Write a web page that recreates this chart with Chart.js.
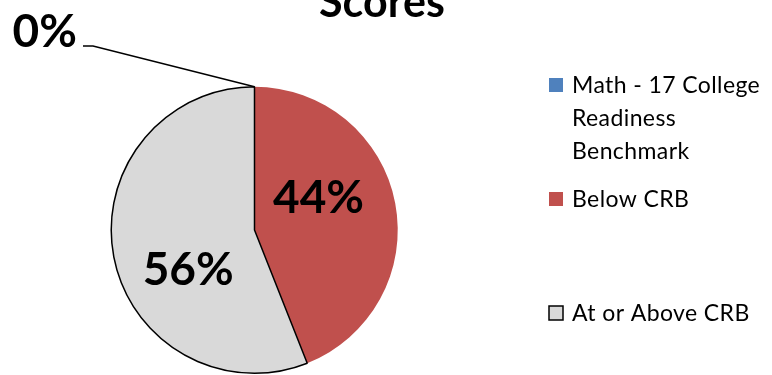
<!DOCTYPE html>
<html><head><meta charset="utf-8">
<script src="https://cdn.jsdelivr.net/npm/chart.js@4/dist/chart.umd.min.js"></script>
<style>html,body{margin:0;padding:0;background:#fff;overflow:hidden}</style>
</head><body>
<canvas id="c" width="772" height="375" style="display:block;width:772px;height:375px"></canvas>
<script>
// ---- data ----
const categories = ["Math - 17 College Readiness Benchmark", "Below CRB", "At or Above CRB"];
const values = [0, 44, 56];
const valueLabels = ["0%", "44%", "56%"];
const titleText = "Scores";

// ---- style ----
const colors = ["#4F81BD", "#C0504D", "#D9D9D9"];
const borderWidths = [0, 0, 1.5];
const labelAngleFrac = 0.4;
const labelRadiusFrac = [0, 0.50, 0.54];
const FONT = "Lato, 'Open Sans', sans-serif";

const overlay = {
  id: 'overlay',
  afterDraw(chart) {
    const ctx = chart.ctx;
    const arcs = chart.getDatasetMeta(0).data;
    ctx.save();
    // title (partially cut at top)
    ctx.fillStyle = '#000';
    ctx.font = 'bold 43px ' + FONT;
    ctx.textAlign = 'center';
    ctx.textBaseline = 'alphabetic';
    ctx.fillText(titleText, 382, 17);

    // data labels
    arcs.forEach((arc, i) => {
      const p = arc.getProps(['x', 'y', 'startAngle', 'endAngle', 'outerRadius'], true);
      ctx.font = 'bold 46px ' + FONT;
      ctx.fillStyle = '#000';
      if (values[i] > 0) {
        const a = p.startAngle + labelAngleFrac * (p.endAngle - p.startAngle);
        const r = p.outerRadius * labelRadiusFrac[i];
        ctx.textAlign = 'center';
        ctx.textBaseline = 'middle';
        ctx.fillText(valueLabels[i], p.x + r * Math.cos(a), p.y + r * Math.sin(a));
      } else {
        const ax = p.x + p.outerRadius * Math.cos(p.startAngle);
        const ay = p.y + p.outerRadius * Math.sin(p.startAngle);
        ctx.strokeStyle = '#000';
        ctx.lineWidth = 1.5;
        ctx.beginPath();
        ctx.moveTo(ax, ay);
        ctx.lineTo(93, 46);
        ctx.lineTo(83, 46);
        ctx.stroke();
        ctx.textAlign = 'right';
        ctx.textBaseline = 'alphabetic';
        ctx.fillText(valueLabels[i], 77, 47);
      }
    });

    // legend
    ctx.font = '23px ' + FONT;
    try { ctx.letterSpacing = '0.4px'; } catch (e) {}
    ctx.textAlign = 'left';
    ctx.textBaseline = 'alphabetic';
    const boxX = 549, textX = 572, box = 14, maxW = 772 - textX - 4;
    categories.forEach((lab, i) => {
      const top = 78 + 114 * i;
      ctx.fillStyle = colors[i];
      ctx.fillRect(boxX, top, box, box);
      if (borderWidths[i] > 0) {
        ctx.strokeStyle = '#000';
        ctx.lineWidth = 1.5;
        ctx.strokeRect(boxX, top, box, box);
      }
      // wrap
      const words = lab.split(' ');
      const lines = [];
      let cur = '';
      words.forEach(w => {
        const t = cur ? cur + ' ' + w : w;
        if (ctx.measureText(t).width > maxW && cur) { lines.push(cur); cur = w; }
        else cur = t;
      });
      lines.push(cur);
      ctx.fillStyle = '#000';
      lines.forEach((ln, j) => ctx.fillText(ln, textX, top + 15 + 33 * j));
    });
    ctx.restore();
  }
};

new Chart(document.getElementById('c'), {
  type: 'pie',
  data: {
    labels: categories,
    datasets: [{
      data: values,
      backgroundColor: colors,
      borderColor: '#000',
      borderWidth: borderWidths
    }]
  },
  options: {
    responsive: false,
    animation: false,
    events: [],
    layout: { padding: { left: 110, right: 373, top: 86, bottom: 1 } },
    plugins: { legend: { display: false }, tooltip: { enabled: false }, title: { display: false } }
  },
  plugins: [overlay]
});
</script>
</body></html>
